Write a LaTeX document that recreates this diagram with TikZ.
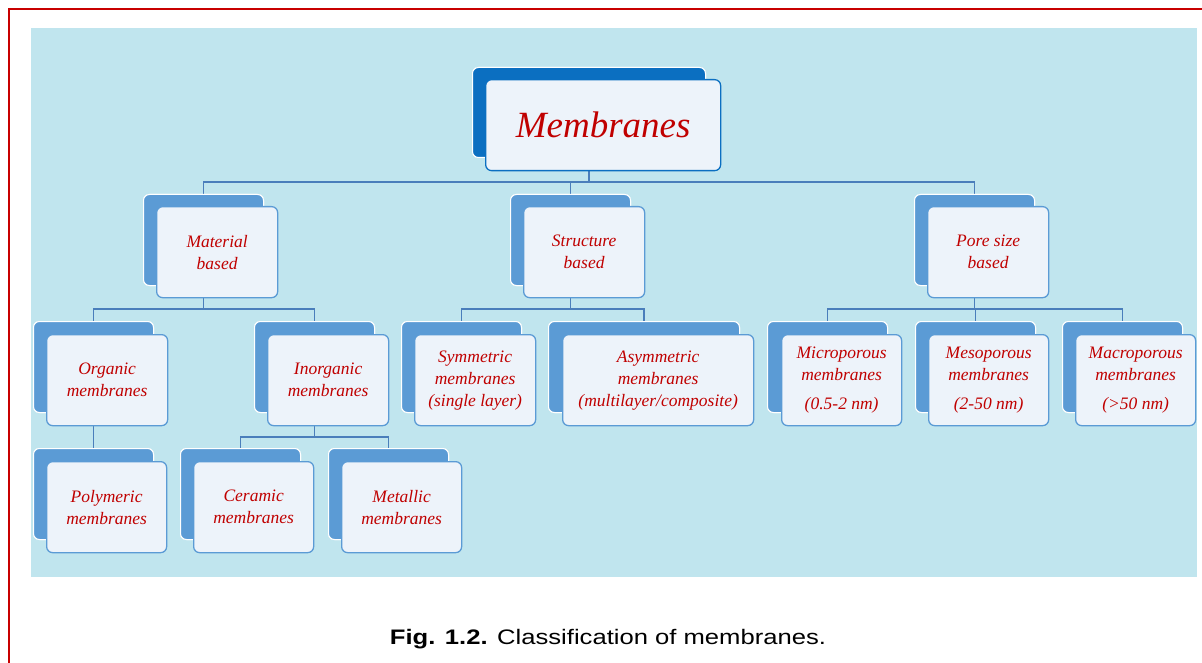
\documentclass[tikz,border=0pt]{standalone}
\usepackage{fontspec}
\newfontfamily\capfont{Liberation Sans}
\newfontfamily\boxfont{Liberation Serif}
\begin{document}
\begin{tikzpicture}[x=1pt,y=-1pt,
  backbox/.style={draw=white,line width=1pt,fill=backblue,rounded corners=6pt,anchor=north west,inner sep=0pt},
  frontbox/.style={draw=backblue,line width=1.3pt,fill=frontfill,rounded corners=6pt,anchor=north west,inner sep=0pt,align=center,
     font=\boxfont\itshape\fontsize{17.5}{22}\selectfont,text=txtred},
  topback/.style={backbox,fill=topblue},
  topfront/.style={frontbox,draw=topblue,font=\boxfont\itshape\fontsize{37}{42}\selectfont},
  conn/.style={draw=connblue,line width=1.3pt},
  frame/.style={draw=framered,line width=2.8pt}
]
\definecolor{backblue}{HTML}{5B9BD5}
\definecolor{topblue}{HTML}{0B6FC1}
\definecolor{frontfill}{HTML}{EDF3FA}
\definecolor{txtred}{HTML}{C00000}
\definecolor{connblue}{HTML}{4A7EBB}
\definecolor{framered}{HTML}{C80000}
\definecolor{bgcyan}{HTML}{C0E5EE}
\useasboundingbox (0,0) rectangle (1202,663);
\fill[white] (0,0) rectangle (1202,663);
\draw[frame] (9,663) -- (9,9) -- (1202,9);
\fill[bgcyan] (31,28) rectangle (1197,577);

% bus levels
\coordinate (busA) at (0,182);
\coordinate (busB) at (0,309);
\coordinate (busC) at (0,437);

% back boxes
\node[topback,minimum width=233,minimum height=90] (memB) at (472,67) {};
\node[backbox,minimum width=120,minimum height=91] (matB) at (143,194) {};
\node[backbox,minimum width=120,minimum height=91] (strB) at (510,194) {};
\node[backbox,minimum width=120,minimum height=91] (porB) at (914,194) {};
\node[backbox,minimum width=120,minimum height=91] (orgB) at (33,321) {};
\node[backbox,minimum width=120,minimum height=91] (inoB) at (254,321) {};
\node[backbox,minimum width=120,minimum height=91] (symB) at (401,321) {};
\node[backbox,minimum width=191,minimum height=91] (asyB) at (548,321) {};
\node[backbox,minimum width=120,minimum height=91] (micB) at (767,321) {};
\node[backbox,minimum width=120,minimum height=91] (mesB) at (915,321) {};
\node[backbox,minimum width=120,minimum height=91] (macB) at (1062,321) {};
\node[backbox,minimum width=120,minimum height=91] (polB) at (33,448) {};
\node[backbox,minimum width=120,minimum height=91] (cerB) at (180,448) {};
\node[backbox,minimum width=120,minimum height=91] (metB) at (328,448) {};

% connectors
\draw[conn] (memB.south) -- (memB |- busA);
\draw[conn] (matB.north) |- (porB |- busA) -- (porB.north);
\draw[conn] (strB |- busA) -- (strB.north);
\draw[conn] (matB.south) -- (matB |- busB);
\draw[conn] (orgB.north) |- (inoB |- busB) -- (inoB.north);
\draw[conn] (strB.south) -- (strB |- busB);
\draw[conn] (symB.north) |- (asyB |- busB) -- (asyB.north);
\draw[conn] (porB.south) -- (porB |- busB);
\draw[conn] (micB.north) |- (macB |- busB) -- (macB.north);
\draw[conn] (mesB |- busB) -- (mesB.north);
\draw[conn] (orgB.south) -- (polB.north);
\draw[conn] (inoB.south) -- (inoB |- busC);
\draw[conn] (cerB.north) |- (metB |- busC) -- (metB.north);

% redraw back boxes over connectors
\node[topback,minimum width=233,minimum height=90] at (472,67) {};
\foreach \bx/\by/\bw in {143/194/120,510/194/120,914/194/120,33/321/120,254/321/120,401/321/120,548/321/191,767/321/120,915/321/120,1062/321/120,33/448/120,180/448/120,328/448/120}
  \node[backbox,minimum width=\bw,minimum height=91] at (\bx,\by) {};

% front boxes
\node[topfront,minimum width=235,minimum height=91] (mem) at (485,79) {Membranes};
\node[frontbox,minimum width=121,minimum height=91] (mat) at (156,206) {Material\\based};
\node[frontbox,minimum width=121,minimum height=91] (str) at (523,206) {Structure\\based};
\node[frontbox,minimum width=121,minimum height=91] (por) at (927,206) {Pore size\\based};
\node[frontbox,minimum width=121,minimum height=91] (org) at (46,334) {Organic\\membranes};
\node[frontbox,minimum width=121,minimum height=91] (ino) at (267,334) {Inorganic\\membranes};
\node[frontbox,minimum width=121,minimum height=91] (sym) at (414,334) {Symmetric\\membranes\\(single layer)};
\node[frontbox,minimum width=191,minimum height=91] (asy) at (562,334) {Asymmetric\\membranes\\(multilayer/composite)};
\node[frontbox,minimum width=120,minimum height=91] (mic) at (781,334) {Microporous\\membranes\\[7pt](0.5-2 nm)};
\node[frontbox,minimum width=120,minimum height=91] (mes) at (928,334) {Mesoporous\\membranes\\[7pt](2-50 nm)};
\node[frontbox,minimum width=120,minimum height=91] (mac) at (1075,334) {Macroporous\\membranes\\[7pt](>50 nm)};
\node[frontbox,minimum width=120,minimum height=91] (pol) at (46,461) {Polymeric\\membranes};
\node[frontbox,minimum width=120,minimum height=91] (cer) at (193,461) {Ceramic\\membranes};
\node[frontbox,minimum width=120,minimum height=91] (met) at (341,461) {Metallic\\membranes};

% caption
\node[font=\capfont\fontsize{21}{25}\selectfont,anchor=base] (cap) at (608,644) {\scalebox{1.22}[1]{\textbf{Fig. 1.2.} Classification of membranes.}};
\end{tikzpicture}
\end{document}
